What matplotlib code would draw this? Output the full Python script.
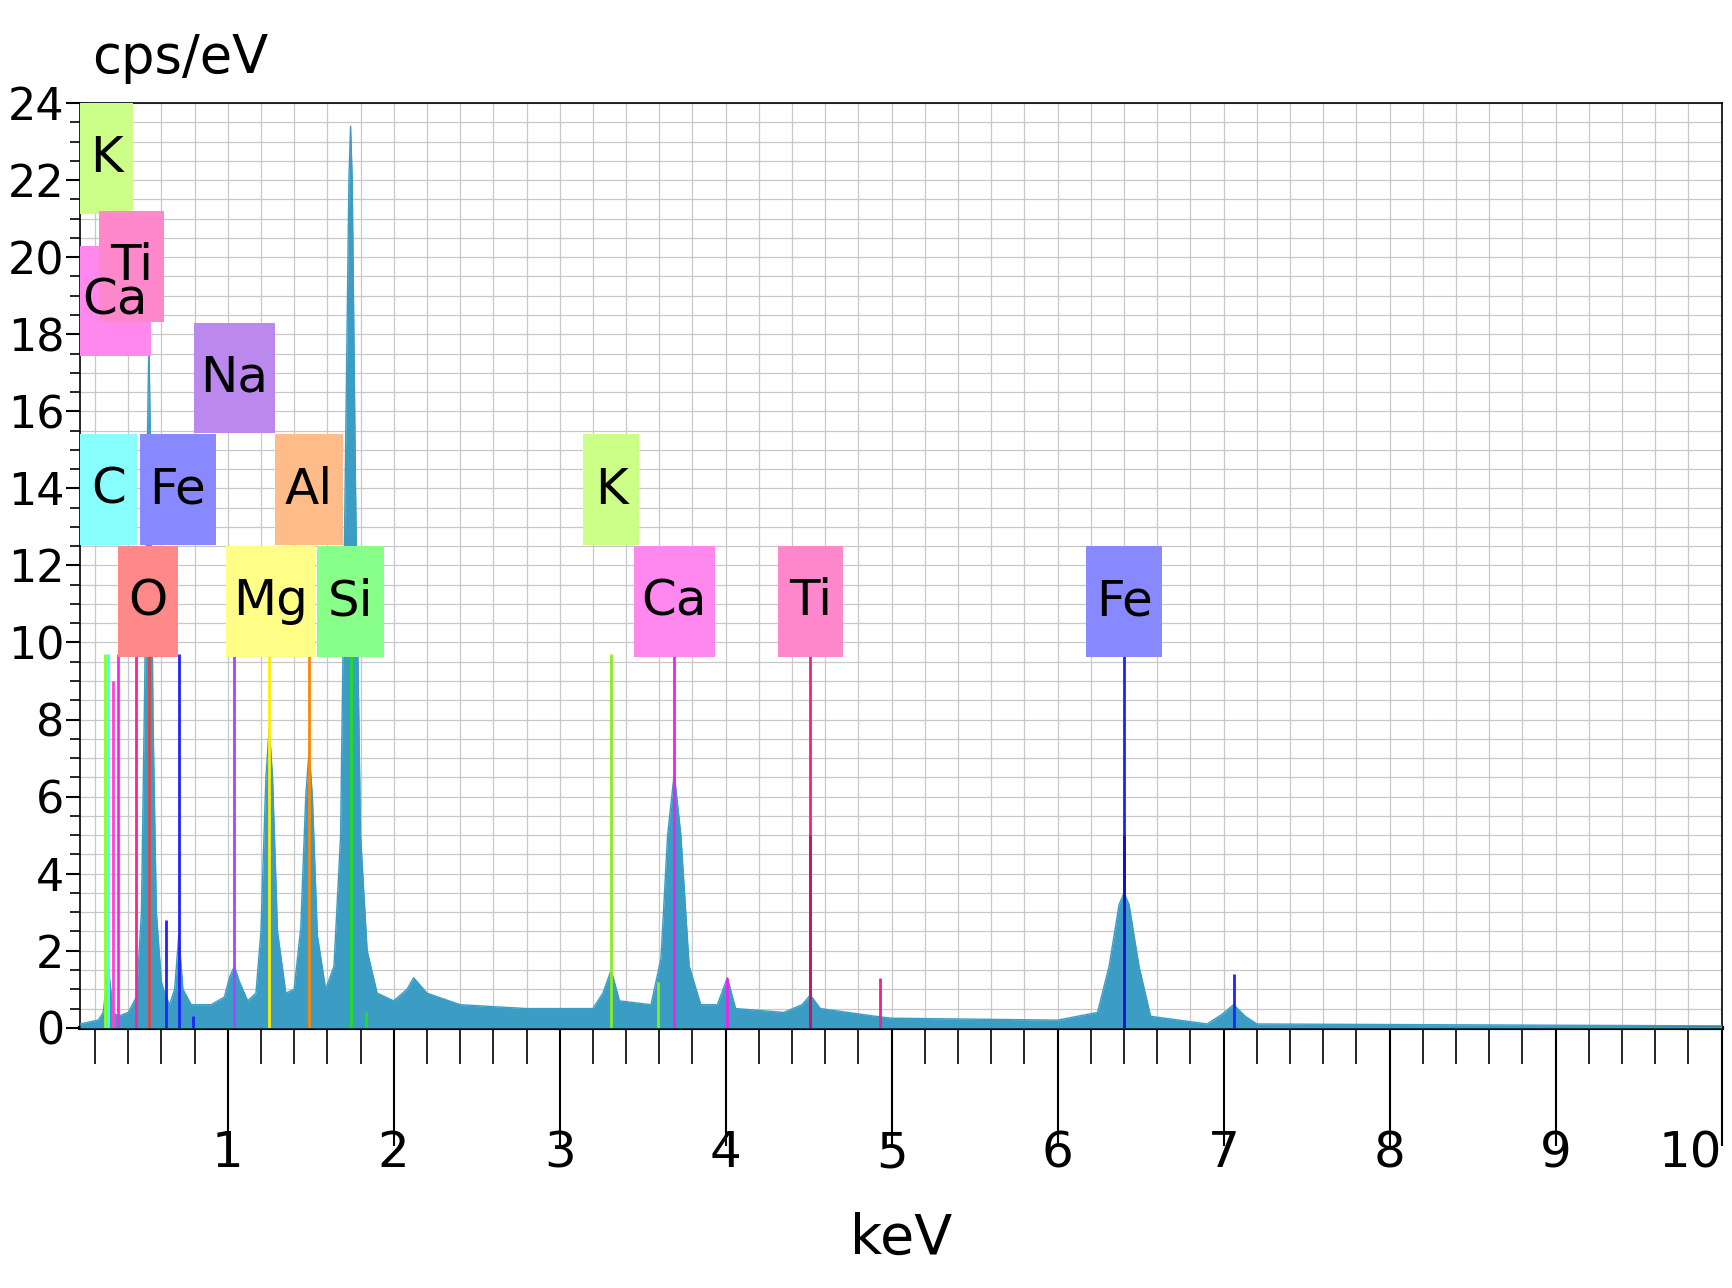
import matplotlib
matplotlib.use("Agg")
import matplotlib.pyplot as plt
from matplotlib.patches import Rectangle
import numpy as np

plt.rcParams['font.family'] = ['DejaVu Sans']

# spectrum points (keV, cps/eV)
kev = [0.11,0.22,0.25,0.27,0.28,0.29,0.31,0.34,0.40,0.45,0.48,0.50,0.515,0.525,0.535,0.55,0.57,0.60,0.62,0.65,0.68,0.705,0.73,0.78,
       0.90,0.98,1.01,1.04,1.07,1.12,1.17,1.20,1.23,1.25,1.27,1.30,1.35,1.40,1.44,1.47,1.49,1.51,1.54,1.59,1.64,1.68,1.71,1.73,1.74,1.75,1.77,1.80,1.84,1.90,
       2.0,2.08,2.12,2.2,2.4,2.8,3.2,3.26,3.31,3.36,3.55,3.61,3.65,3.69,3.73,3.78,3.85,3.95,4.01,4.06,4.35,4.46,4.51,
       4.57,4.9,5.0,6.0,6.24,6.31,6.37,6.40,6.43,6.49,6.56,6.9,6.99,7.06,7.13,7.2,10.0]
cps = [0.1,0.2,0.4,1.2,1.6,1.2,0.4,0.3,0.4,0.8,3,9,15,17.8,15,8,3,1.2,0.9,0.6,1.0,2.4,1.0,0.6,
       0.6,0.8,1.3,1.6,1.2,0.7,0.9,2.5,6.5,7.8,6.5,2.5,0.9,1.0,2.6,6.0,7.2,6.0,2.4,1.0,1.6,5,15,22,23.4,22,14,5,2.0,0.9,
       0.7,1.0,1.3,0.9,0.6,0.5,0.5,0.9,1.5,0.7,0.6,1.8,5.0,6.6,5.0,1.6,0.6,0.6,1.3,0.5,0.4,0.6,0.85,
       0.5,0.3,0.25,0.2,0.4,1.6,3.2,3.5,3.2,1.6,0.3,0.1,0.35,0.6,0.3,0.1,0.05]

# element marker lines: energy, height, colour
line_e = [0.277,0.26,0.34,0.31,0.45,0.525,0.705,1.04,1.25,1.49,1.74,3.31,3.69,4.51,6.40,
          0.63,0.79,4.01,4.93,7.06,4.51,6.40,3.59,1.83]
line_h = [9.7,9.7,9.7,9.0,9.7,9.7,9.7,9.7,9.7,9.7,9.7,9.7,9.7,9.7,9.7,
          2.8,0.3,1.3,1.3,1.4,5.0,5.0,1.2,0.4]
line_c = ['#44ffff','#88ff22','#ff22ee','#ff44cc','#ff2299','#dd4444','#2222ff','#aa44ff','#ffee00','#ff8800','#22dd22',
          '#88ee22','#ee22ee','#ee2288','#2222ee',
          '#2222ff','#2222ff','#ee22ee','#ee2288','#2222ff','#cc1166','#1111cc','#88ee22','#22dd22']

# labels: text, centre energy, top y, box width keV
lab_t = ['K','Ca','Ti','Na','C','Fe','Al','K','O','Mg','Si','Ca','Ti','Fe']
lab_x = [0.27,0.32,0.42,1.04,0.28,0.70,1.49,3.31,0.52,1.257,1.74,3.69,4.51,6.40]
lab_y = [24.0,20.3,21.2,18.3,15.4,15.4,15.4,15.4,12.5,12.5,12.5,12.5,12.5,12.5]
lab_w = [0.32,0.43,0.39,0.49,0.35,0.46,0.41,0.34,0.36,0.54,0.40,0.49,0.39,0.46]
lab_c = ['#ccff88','#ff88ee','#ff88cc','#bb88ee','#88ffff','#8888ff','#ffbb88','#ccff88',
         '#ff8888','#ffff88','#88ff88','#ff88ee','#ff88cc','#8888ff']

fig = plt.figure(figsize=(17.32,12.88), dpi=100)
ax = fig.add_axes([0.046,0.202,0.948,0.718])
ax.set_xlim(0.108,10)
ax.set_ylim(0,24)
ax.set_xticks(np.arange(0.2,10.01,0.2), minor=True)
ax.set_xticks(range(1,11))
ax.set_yticks(range(0,25,2))
ax.set_yticks(np.arange(0,24.01,0.5), minor=True)
ax.grid(True, which='both', color='#c8c8c8', lw=0.9)
ax.set_axisbelow(True)
ax.fill_between(kev, cps, color='#3b9dc3', lw=0, zorder=3)
ax.plot(kev, cps, color='#3b9dc3', lw=1, zorder=3)
ax.vlines(line_e, 0, line_h, colors=line_c, lw=2, zorder=4)
for t,x,y,w,c in zip(lab_t,lab_x,lab_y,lab_w,lab_c):
    ax.add_patch(Rectangle((x-w/2,y-2.87),w,2.87,facecolor=c,edgecolor='none',zorder=5,clip_on=True))
    ax.text(x,y-1.43,t,ha='center',va='center',fontsize=36,zorder=6,clip_on=True)
ax.tick_params(axis='x', which='major', direction='out', length=85, width=1.5, labelsize=36, pad=-12)
ax.tick_params(axis='x', which='minor', direction='out', length=26, width=1.2)
ax.tick_params(axis='y', which='major', direction='out', length=10, width=1.5, labelsize=32, pad=1)
ax.tick_params(axis='y', which='minor', direction='out', length=7, width=1.2)
ax.get_xticklabels()[-1].set_horizontalalignment('right')
for s in ax.spines.values():
    s.set_linewidth(1.2)
ax.spines['bottom'].set_linewidth(3)
ax.set_xlabel('keV', fontsize=40, labelpad=25)
fig.text(0.053,0.935,'cps/eV',fontsize=38,ha='left',va='bottom')
fig.savefig('out.png', dpi=100)
